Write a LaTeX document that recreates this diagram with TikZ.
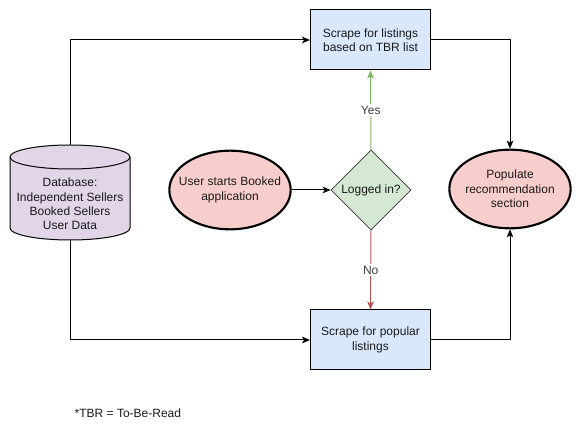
\documentclass[tikz,border=0pt]{standalone}
\usepackage{fontspec}
\setmainfont{Liberation Sans}
\usetikzlibrary{shapes.geometric,arrows.meta}
\definecolor{boxfill}{HTML}{DAE8FC}
\definecolor{ellfill}{HTML}{F8CECC}
\definecolor{diafill}{HTML}{D5E8D4}
\definecolor{dbfill}{HTML}{E1D5E7}
\definecolor{yesc}{HTML}{82B366}
\definecolor{noc}{HTML}{B85450}
\definecolor{txt}{HTML}{1A1A1A}
\tikzset{
  every node/.style={font=\fontsize{9}{10.8}\selectfont, text=txt},
  procbox/.style={draw=black, line width=0.75pt, fill=boxfill, minimum width=90pt, minimum height=45pt, align=center, inner sep=0pt},
  term/.style={ellipse, draw=black, line width=1.6pt, fill=ellfill, minimum width=91pt, minimum height=59pt, inner sep=0pt},
  ctext/.style={align=center, inner sep=0pt},
  decide/.style={diamond, draw=black!80, line width=0.6pt, fill=diafill, minimum width=60pt, minimum height=60pt, inner sep=0pt, aspect=1},
  conn/.style={draw=black, line width=0.75pt, -{Stealth[length=6pt,width=5pt,inset=1.5pt]}},
  lbl/.style={fill=white, inner sep=1.5pt, text=txt!85}
}
\begin{document}
\begin{tikzpicture}[x=0.75pt,y=-0.75pt]
\useasboundingbox (0,0) rectangle (582,441);
% cylinder drawn directly
\path[fill=dbfill, draw=black, line width=0.75pt]
  (10,157) -- (10,228) arc[start angle=180,end angle=0,x radius=60,y radius=12]
  -- (130,157) arc[start angle=0,end angle=-180,x radius=60,y radius=12] -- cycle;
\draw[black, line width=0.75pt] (10,157) arc[start angle=180,end angle=0,x radius=60,y radius=12];
\node[minimum width=90pt, minimum height=71.25pt, inner sep=0pt, align=center] (db) at (70,192.5) {};
\node[ctext] (dbtext) at (70,204) {Database:\\Independent Sellers\\Booked Sellers\\User Data};

\node[procbox] (top) at (370.5,40) {Scrape for listings\\based on TBR list};
\node[procbox] (bot) at (370.5,340) {Scrape for popular\\listings};
\node[term] (start) at (230,190) {};
\node[ctext] (starttext) at (start.center) {User starts Booked\\application};
\node[decide] (dec) at (371,190) {Logged in?};
\node[term] (pop) at (510,189) {};
\node[ctext] (poptext) at (pop.center) {Populate\\recommendation\\section};

\draw[conn] (db.north) |- (top.west);
\draw[conn] (db.south) |- (bot.west);
\draw[conn] (start) -- (dec);
\draw[conn, draw=yesc, -{Stealth[length=6pt,width=5pt,inset=1.5pt,color=yesc]}] (dec.north) -- node[lbl, pos=0.5] {Yes} (top.south);
\draw[conn, draw=noc, -{Stealth[length=6pt,width=5pt,inset=1.5pt,color=noc]}] (dec.south) -- node[lbl, pos=0.5] {No} (bot.north);
\draw[conn] (top.east) -| (pop.north);
\draw[conn] (bot.east) -| (pop.south);

\node[anchor=west] (note) at (70,413) {*TBR = To-Be-Read};
\end{tikzpicture}
\end{document}
